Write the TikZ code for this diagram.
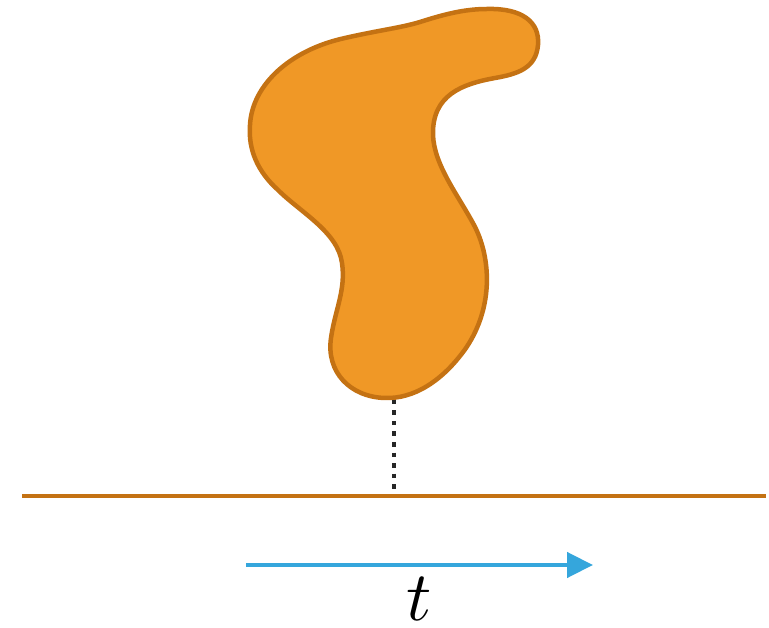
\documentclass[tikz,border=0pt]{standalone}
\usetikzlibrary{arrows.meta}
\definecolor{blobfill}{HTML}{F09826}
\definecolor{blobline}{HTML}{C47213}
\definecolor{arrowblue}{HTML}{35A6DC}
\begin{document}
\begin{tikzpicture}[x=1pt,y=-1pt,
  blob/.style={fill=blobfill,draw=blobline,line width=4.5pt},
  baseline/.style={draw=blobline,line width=4pt},
  dots/.style={draw=black!85,line width=4.5pt,dash pattern=on 4.5pt off 6pt},
  timearrow/.style={draw=arrowblue,line width=4.5pt,-{Triangle[length=26pt,width=25pt]}}]
\useasboundingbox (0,0) rectangle (769,628);
\draw[blob] (487,9) .. controls (522,8) and (540,22) .. (538,45)
  .. controls (536,68) and (518,74) .. (495,78)
  .. controls (462,84) and (432,95) .. (433,135)
  .. controls (434,165) and (458,195) .. (474,225)
  .. controls (490,255) and (495,305) .. (466,348)
  .. controls (442,382) and (413,399) .. (385,398)
  .. controls (350,397) and (326,372) .. (331,338)
  .. controls (335,310) and (346,290) .. (342,263)
  .. controls (338,232) and (300,212) .. (278,190)
  .. controls (258,172) and (248,150) .. (250,125)
  .. controls (252,85) and (290,50) .. (345,38)
  .. controls (380,30) and (400,28) .. (420,22)
  .. controls (445,14) and (465,9) .. (487,9) -- cycle;
\coordinate (blobbottom) at (394,400);
\coordinate (lineleft) at (22,496);
\coordinate (lineright) at (766,496);
\coordinate (foot) at (394,492);
\draw[baseline] (lineleft) -- (lineright);
\draw[dots] (blobbottom) -- (foot);
\coordinate (arrowstart) at (246,565);
\coordinate (arrowend) at (593,565);
\draw[timearrow] (arrowstart) -- (arrowend);
\node[inner sep=0pt] (tlabel) at (419,599) {\scalebox{7}{$t$}};
\end{tikzpicture}
\end{document}
